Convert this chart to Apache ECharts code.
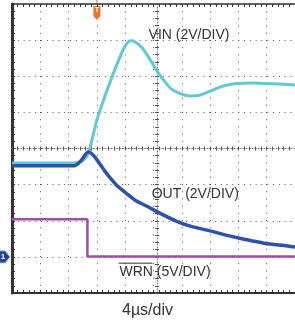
<!DOCTYPE html>
<html><head><meta charset="utf-8">
<script src="https://cdn.jsdelivr.net/npm/echarts@6/dist/echarts.min.js"></script>
<style>html,body{margin:0;padding:0;background:#fff}#c{width:295px;height:328px}</style>
</head><body><div id="c"></div>
<script>
// time in µs (4 µs/div), values in screen divisions from bottom (0..8)
const vinT = [0, 8.7, 10.1, 10.8, 12.0, 13.1, 14.2, 15.2, 16.0, 16.8, 17.4, 18.3, 19.3, 20.4, 21.4, 22.5, 23.9, 25.2, 26.6, 28.0, 29.4, 31.4, 34.2, 37.0, 40];
const vinV = [3.60, 3.60, 3.68, 3.88, 4.79, 5.43, 6.01, 6.50, 6.84, 6.98, 6.95, 6.81, 6.53, 6.17, 5.90, 5.65, 5.51, 5.45, 5.48, 5.59, 5.70, 5.79, 5.81, 5.79, 5.76];
const outT = [0, 8.7, 9.7, 10.8, 11.45, 12.14, 13.1, 13.9, 14.9, 15.9, 17.4, 19.0, 21.1, 23.2, 25.2, 27.6, 30.1, 32.8, 35.6, 39.0, 40];
const outV = [3.52, 3.52, 3.65, 3.90, 3.82, 3.65, 3.38, 3.18, 2.96, 2.80, 2.57, 2.41, 2.19, 1.99, 1.85, 1.74, 1.61, 1.49, 1.38, 1.30, 1.27];
const wrnT = [0, 10.66, 10.66, 40];
const wrnV = [2.04, 2.04, 1.01, 1.01];
const xRange = [0, 40];
const yRange = [0, 8];
const labels = ['VIN (2V/DIV)', 'OUT (2V/DIV)', 'WRN (5V/DIV)'];
const xTitle = '4µs/div';

const zip = (a, b) => a.map((v, i) => [v, b[i]]);
const chart = echarts.init(document.getElementById('c'), null, {renderer: 'canvas'});
const dark = '#333';
const baseX = {type: 'value', min: xRange[0], max: xRange[1], interval: 4, axisLabel: {show: false}, splitLine: {show: false}};
const baseY = {type: 'value', min: yRange[0], max: yRange[1], interval: 1, axisLabel: {show: false}, splitLine: {show: false}};
const FONT = 'Liberation Sans, Arial, sans-serif';
chart.setOption({
  animation: false,
  backgroundColor: '#fff',
  grid: {left: 12, top: 4, width: 290, height: 289, containLabel: false},
  xAxis: [
    Object.assign({}, baseX, {position: 'bottom', axisLine: {show: true, onZero: false, lineStyle: {color: dark, width: 2}},
      axisTick: {show: true, inside: true, length: 3, lineStyle: {color: dark}},
      minorTick: {show: true, splitNumber: 5, length: 3, lineStyle: {color: dark}},
      splitLine: {show: true, lineStyle: {color: '#555', width: 1, type: [1, 6.2]}}}),
    Object.assign({}, baseX, {position: 'top', axisLine: {show: true, onZero: false, lineStyle: {color: dark, width: 1.5}},
      axisTick: {show: true, inside: true, length: 3, lineStyle: {color: dark}},
      minorTick: {show: true, splitNumber: 5, length: 3, lineStyle: {color: dark}}}),
    Object.assign({}, baseX, {position: 'bottom', offset: -144.5, axisLine: {show: true, onZero: false, lineStyle: {color: '#777', width: 1, type: [1, 2]}},
      axisTick: {show: true, inside: true, length: 2, lineStyle: {color: '#555'}},
      minorTick: {show: true, splitNumber: 5, length: 2, lineStyle: {color: '#555'}}}),
    Object.assign({}, baseX, {position: 'bottom', offset: -144.5, axisLine: {show: false},
      axisTick: {show: true, inside: false, length: 2, lineStyle: {color: '#555'}},
      minorTick: {show: true, splitNumber: 5, length: 2, lineStyle: {color: '#555'}}})
  ],
  yAxis: [
    Object.assign({}, baseY, {position: 'left', axisLine: {show: true, onZero: false, lineStyle: {color: dark, width: 3}},
      axisTick: {show: true, inside: true, length: 3, lineStyle: {color: dark}},
      minorTick: {show: true, splitNumber: 5, length: 3, lineStyle: {color: dark}},
      splitLine: {show: true, lineStyle: {color: '#555', width: 1, type: [1, 4.8]}}}),
    Object.assign({}, baseY, {position: 'left', offset: -145, axisLine: {show: true, onZero: false, lineStyle: {color: '#777', width: 1, type: [1, 2]}},
      axisTick: {show: true, inside: true, length: 2, lineStyle: {color: '#555'}},
      minorTick: {show: true, splitNumber: 5, length: 2, lineStyle: {color: '#555'}}}),
    Object.assign({}, baseY, {position: 'left', offset: -145, axisLine: {show: false},
      axisTick: {show: true, inside: false, length: 2, lineStyle: {color: '#555'}},
      minorTick: {show: true, splitNumber: 5, length: 2, lineStyle: {color: '#555'}}})
  ],
  series: [
    {name: 'VIN', type: 'line', data: zip(vinT, vinV), showSymbol: false, smooth: 0.3, lineStyle: {color: '#62c8d4', width: 3}, z: 3},
    {name: 'WRN', type: 'line', data: zip(wrnT, wrnV), showSymbol: false, lineStyle: {color: '#a04ea8', width: 2.5}, z: 3},
    {name: 'OUT', type: 'line', data: zip(outT, outV), showSymbol: false, smooth: 0.3, lineStyle: {color: '#2c52aa', width: 3.5}, z: 4}
  ]
});

const p = (x, y) => chart.convertToPixel({gridIndex: 0}, [x, y]);
const trig = p(12, 8);
const gnd = p(0, 1);
const vinLab = p(19.3, 7.33);
const outLab = p(19.75, 2.92);
const wrnLab = p(15.2, 0.77);
chart.setOption({
  graphic: [
    {type: 'text', left: vinLab[0], top: vinLab[1], style: {text: labels[0], font: '14px ' + FONT, fill: dark}},
    {type: 'text', left: outLab[0], top: outLab[1], style: {text: labels[1], font: '14px ' + FONT, fill: dark}},
    {type: 'text', left: wrnLab[0], top: wrnLab[1], style: {text: labels[2], font: '14px ' + FONT, fill: dark}},
    {type: 'line', shape: {x1: wrnLab[0] - 1, y1: wrnLab[1] - 2, x2: wrnLab[0] + 33, y2: wrnLab[1] - 2}, style: {stroke: dark, lineWidth: 1}},
    {type: 'text', left: 'center', top: 303, style: {text: xTitle, font: '16px ' + FONT, fill: dark}},
    {type: 'group', x: trig[0], y: trig[1], children: [
      {type: 'rect', shape: {x: -0.5, y: -4, width: 1, height: 4}, style: {fill: '#f07030'}},
      {type: 'polygon', shape: {points: [[-3.5, 2], [3.5, 2], [3.5, 12], [0, 16], [-3.5, 12]]}, style: {fill: '#f07030'}},
      {type: 'text', x: 0, y: 3, style: {text: 'T', font: 'bold 7px ' + FONT, fill: '#fff', align: 'center'}}
    ]},
    {type: 'group', x: 0, y: gnd[1], children: [
      {type: 'polygon', shape: {points: [[-2, -6], [5, -6], [10, 0], [5, 6], [-2, 6]]}, style: {fill: '#2d3f8f', stroke: '#62c8d4', lineWidth: 1}},
      {type: 'text', x: 3, y: -4.5, style: {text: '1', font: 'bold 8px ' + FONT, fill: '#fff', align: 'center'}}
    ]}
  ]
});
</script></body></html>
